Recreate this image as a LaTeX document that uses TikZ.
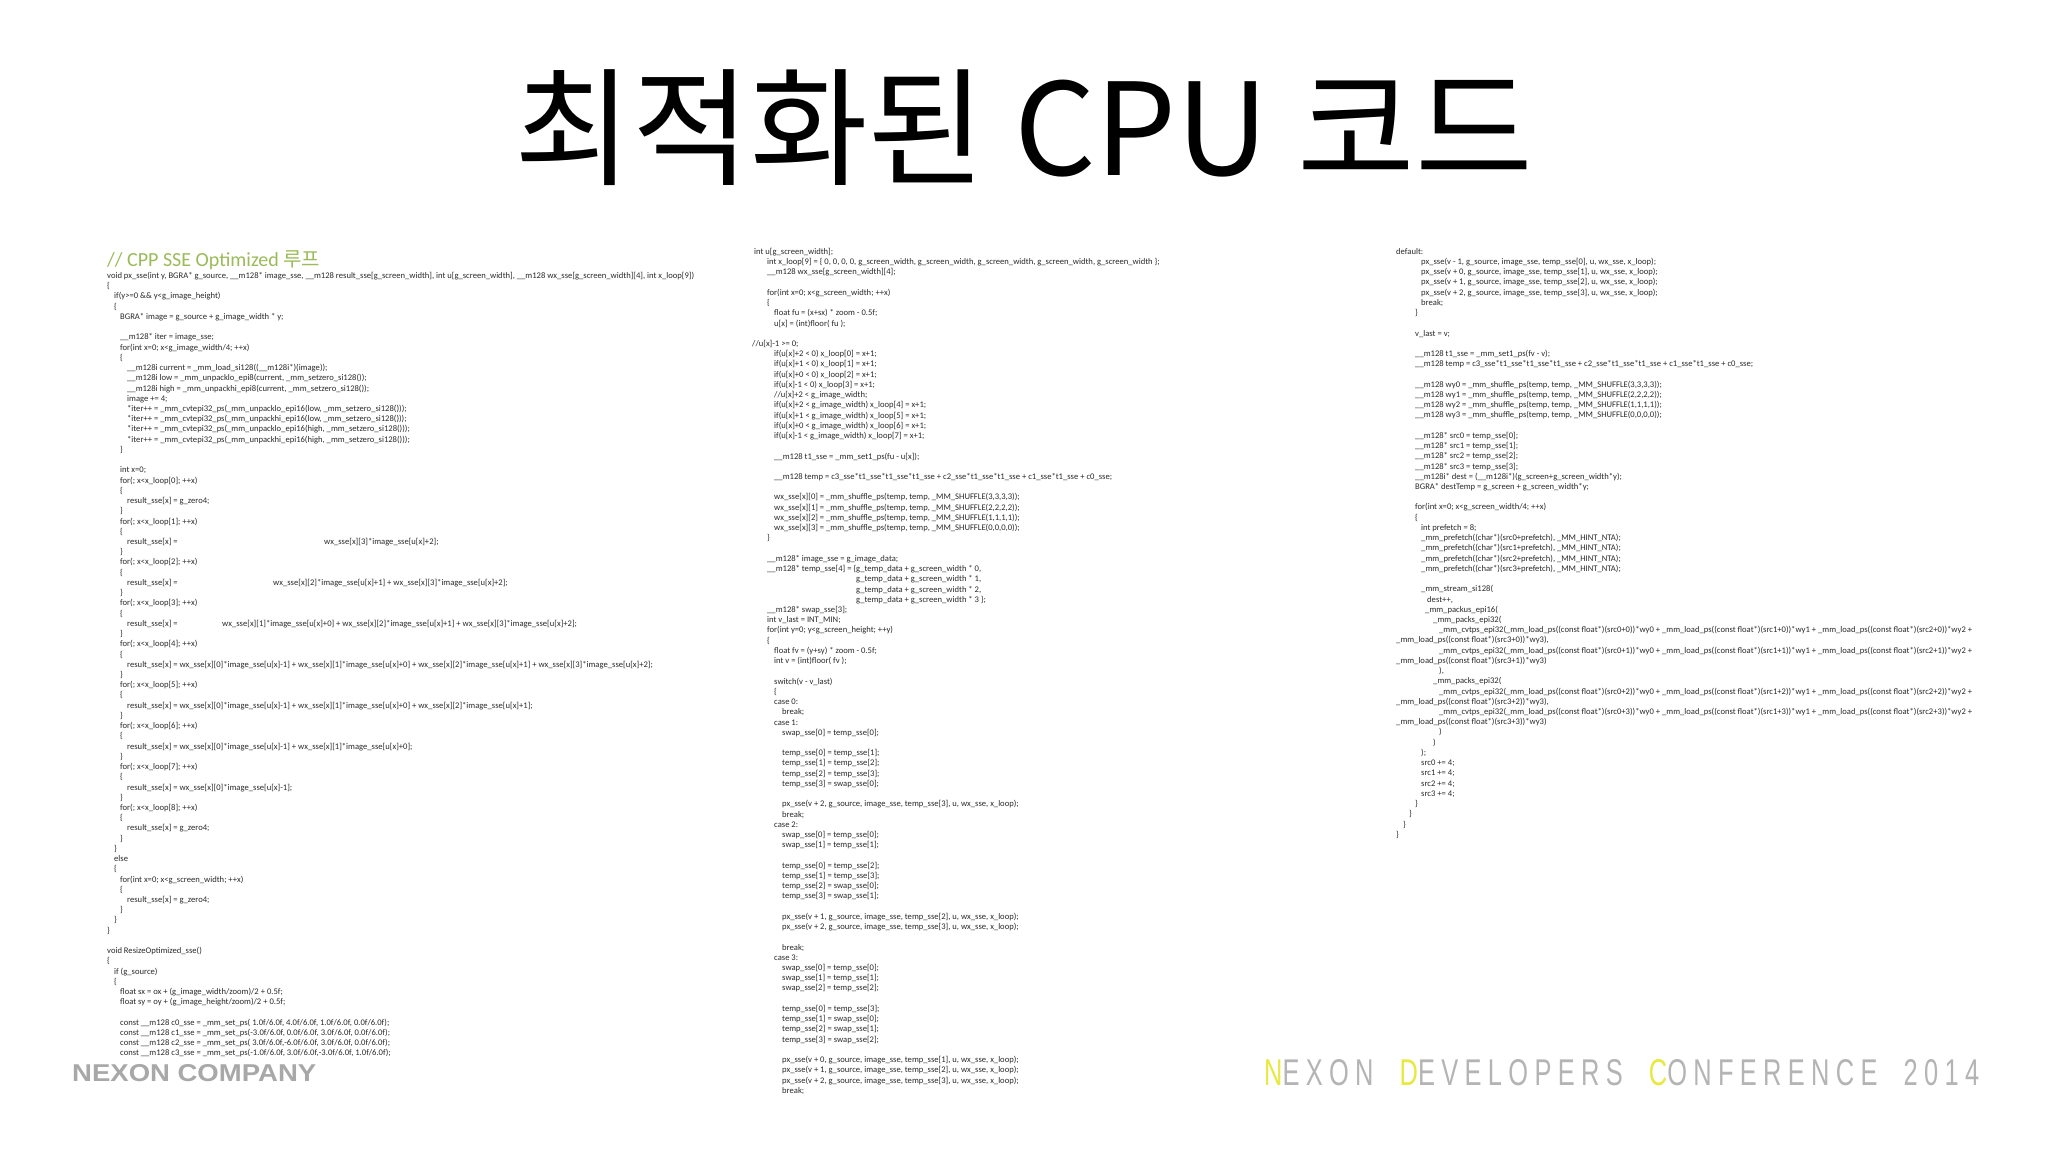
\documentclass[tikz,border=0pt]{standalone}
\usepackage{fontspec}
\setmainfont{Carlito}
\newfontfamily\cjk{Noto Sans CJK KR}
\newfontfamily\logofont{Liberation Sans}
\definecolor{codegray}{HTML}{2A2A2A}
\definecolor{cmtgreen}{HTML}{9BBB59}
\definecolor{ndcgray}{HTML}{B4B4B4}
\definecolor{ndcyellow}{HTML}{E8E840}
\definecolor{nxgray}{HTML}{A8A8A8}
\newcommand\cl[2]{\hbox{\hspace*{#1pt}#2}}
\newcommand\bl{\hbox{}}
\newcommand\codeblock[1]{\vbox{\baselineskip=10.23pt\lineskiplimit=-100pt\lineskip=0pt #1}}
\AtBeginDocument{\catcode`\_=12 }
\tikzset{
  codecol/.style={anchor=north west, inner sep=0pt, text=codegray,
    font=\fontsize{8.6}{10.23}\selectfont}
}
\begin{document}
\begin{tikzpicture}[x=1pt,y=-1pt]
\useasboundingbox[fill=white] (0,0) rectangle (2048,1152);
\node[font=\cjk\fontsize{128}{140}\selectfont, anchor=center] (title) at (1024,128) {최적화된 CPU 코드};
\node[anchor=base west, inner sep=0pt, text=cmtgreen, font=\fontsize{20}{22}\selectfont] (cmt) at (107,266) {// CPP SSE Optimized {\cjk 루프}};
\node[codecol] (col1) at (107,272) {\codeblock{%
\cl{0}{void px_sse(int y, BGRA* g_source, __m128* image_sse, __m128 result_sse[g_screen_width], int u[g_screen_width], __m128 wx_sse[g_screen_width][4], int x_loop[9])}
\cl{0}{\{}
\cl{7}{if(y>=0 \&\& y<g_image_height)}
\cl{7}{\{}
\cl{13}{BGRA* image = g_source + g_image_width * y;}
\bl
\cl{13}{__m128* iter = image_sse;}
\cl{13}{for(int x=0; x<g_image_width/4; ++x)}
\cl{13}{\{}
\cl{20}{__m128i current = _mm_load_si128((__m128i*)(image));}
\cl{20}{__m128i low = _mm_unpacklo_epi8(current, _mm_setzero_si128());}
\cl{20}{__m128i high = _mm_unpackhi_epi8(current, _mm_setzero_si128());}
\cl{20}{image += 4;}
\cl{20}{*iter++ = _mm_cvtepi32_ps(_mm_unpacklo_epi16(low, _mm_setzero_si128()));}
\cl{20}{*iter++ = _mm_cvtepi32_ps(_mm_unpackhi_epi16(low, _mm_setzero_si128()));}
\cl{20}{*iter++ = _mm_cvtepi32_ps(_mm_unpacklo_epi16(high, _mm_setzero_si128()));}
\cl{20}{*iter++ = _mm_cvtepi32_ps(_mm_unpackhi_epi16(high, _mm_setzero_si128()));}
\cl{13}{\}}
\bl
\cl{13}{int x=0;}
\cl{13}{for(; x<x_loop[0]; ++x)}
\cl{13}{\{}
\cl{20}{result_sse[x] = g_zero4;}
\cl{13}{\}}
\cl{13}{for(; x<x_loop[1]; ++x)}
\cl{13}{\{}
\cl{20}{\makebox[197pt][l]{result_sse[x] =}wx_sse[x][3]*image_sse[u[x]+2];}
\cl{13}{\}}
\cl{13}{for(; x<x_loop[2]; ++x)}
\cl{13}{\{}
\cl{20}{\makebox[146pt][l]{result_sse[x] =}wx_sse[x][2]*image_sse[u[x]+1] + wx_sse[x][3]*image_sse[u[x]+2];}
\cl{13}{\}}
\cl{13}{for(; x<x_loop[3]; ++x)}
\cl{13}{\{}
\cl{20}{\makebox[95pt][l]{result_sse[x] =}wx_sse[x][1]*image_sse[u[x]+0] + wx_sse[x][2]*image_sse[u[x]+1] + wx_sse[x][3]*image_sse[u[x]+2];}
\cl{13}{\}}
\cl{13}{for(; x<x_loop[4]; ++x)}
\cl{13}{\{}
\cl{20}{result_sse[x] = wx_sse[x][0]*image_sse[u[x]-1] + wx_sse[x][1]*image_sse[u[x]+0] + wx_sse[x][2]*image_sse[u[x]+1] + wx_sse[x][3]*image_sse[u[x]+2];}
\cl{13}{\}}
\cl{13}{for(; x<x_loop[5]; ++x)}
\cl{13}{\{}
\cl{20}{result_sse[x] = wx_sse[x][0]*image_sse[u[x]-1] + wx_sse[x][1]*image_sse[u[x]+0] + wx_sse[x][2]*image_sse[u[x]+1];}
\cl{13}{\}}
\cl{13}{for(; x<x_loop[6]; ++x)}
\cl{13}{\{}
\cl{20}{result_sse[x] = wx_sse[x][0]*image_sse[u[x]-1] + wx_sse[x][1]*image_sse[u[x]+0];}
\cl{13}{\}}
\cl{13}{for(; x<x_loop[7]; ++x)}
\cl{13}{\{}
\cl{20}{result_sse[x] = wx_sse[x][0]*image_sse[u[x]-1];}
\cl{13}{\}}
\cl{13}{for(; x<x_loop[8]; ++x)}
\cl{13}{\{}
\cl{20}{result_sse[x] = g_zero4;}
\cl{13}{\}}
\cl{7}{\}}
\cl{7}{else}
\cl{7}{\{}
\cl{13}{for(int x=0; x<g_screen_width; ++x)}
\cl{13}{\{}
\cl{20}{result_sse[x] = g_zero4;}
\cl{13}{\}}
\cl{7}{\}}
\cl{0}{\}}
\bl
\cl{0}{void ResizeOptimized_sse()}
\cl{0}{\{}
\cl{7}{if (g_source)}
\cl{7}{\{}
\cl{13}{float sx = ox + (g_image_width/zoom)/2 + 0.5f;}
\cl{13}{float sy = oy + (g_image_height/zoom)/2 + 0.5f;}
\bl
\cl{13}{const __m128 c0_sse = _mm_set_ps( 1.0f/6.0f, 4.0f/6.0f, 1.0f/6.0f, 0.0f/6.0f);}
\cl{13}{const __m128 c1_sse = _mm_set_ps(-3.0f/6.0f, 0.0f/6.0f, 3.0f/6.0f, 0.0f/6.0f);}
\cl{13}{const __m128 c2_sse = _mm_set_ps( 3.0f/6.0f,-6.0f/6.0f, 3.0f/6.0f, 0.0f/6.0f);}
\cl{13}{const __m128 c3_sse = _mm_set_ps(-1.0f/6.0f, 3.0f/6.0f,-3.0f/6.0f, 1.0f/6.0f);}
}};
\node[codecol] (col2) at (752,248) {\codeblock{%
\cl{2}{int u[g_screen_width];}
\cl{15}{int x_loop[9] = \{ 0, 0, 0, 0, g_screen_width, g_screen_width, g_screen_width, g_screen_width, g_screen_width \};}
\cl{15}{__m128 wx_sse[g_screen_width][4];}
\bl
\cl{15}{for(int x=0; x<g_screen_width; ++x)}
\cl{15}{\{}
\cl{22}{float fu = (x+sx) * zoom - 0.5f;}
\cl{22}{u[x] = (int)floor( fu );}
\bl
\cl{0}{//u[x]-1 >= 0;}
\cl{22}{if(u[x]+2 < 0) x_loop[0] = x+1;}
\cl{22}{if(u[x]+1 < 0) x_loop[1] = x+1;}
\cl{22}{if(u[x]+0 < 0) x_loop[2] = x+1;}
\cl{22}{if(u[x]-1 < 0) x_loop[3] = x+1;}
\cl{22}{//u[x]+2 < g_image_width;}
\cl{22}{if(u[x]+2 < g_image_width) x_loop[4] = x+1;}
\cl{22}{if(u[x]+1 < g_image_width) x_loop[5] = x+1;}
\cl{22}{if(u[x]+0 < g_image_width) x_loop[6] = x+1;}
\cl{22}{if(u[x]-1 < g_image_width) x_loop[7] = x+1;}
\bl
\cl{22}{__m128 t1_sse = _mm_set1_ps(fu - u[x]);}
\bl
\cl{22}{__m128 temp = c3_sse*t1_sse*t1_sse*t1_sse + c2_sse*t1_sse*t1_sse + c1_sse*t1_sse + c0_sse;}
\bl
\cl{22}{wx_sse[x][0] = _mm_shuffle_ps(temp, temp, _MM_SHUFFLE(3,3,3,3));}
\cl{22}{wx_sse[x][1] = _mm_shuffle_ps(temp, temp, _MM_SHUFFLE(2,2,2,2));}
\cl{22}{wx_sse[x][2] = _mm_shuffle_ps(temp, temp, _MM_SHUFFLE(1,1,1,1));}
\cl{22}{wx_sse[x][3] = _mm_shuffle_ps(temp, temp, _MM_SHUFFLE(0,0,0,0));}
\cl{15}{\}}
\bl
\cl{15}{__m128* image_sse = g_image_data;}
\cl{15}{\makebox[89pt][l]{__m128* temp_sse[4] = \{}g_temp_data + g_screen_width * 0,}
\cl{104}{g_temp_data + g_screen_width * 1,}
\cl{104}{g_temp_data + g_screen_width * 2,}
\cl{104}{g_temp_data + g_screen_width * 3 \};}
\cl{15}{__m128* swap_sse[3];}
\cl{15}{int v_last = INT_MIN;}
\cl{15}{for(int y=0; y<g_screen_height; ++y)}
\cl{15}{\{}
\cl{22}{float fv = (y+sy) * zoom - 0.5f;}
\cl{22}{int v = (int)floor( fv );}
\bl
\cl{22}{switch(v - v_last)}
\cl{22}{\{}
\cl{22}{case 0:}
\cl{30}{break;}
\cl{22}{case 1:}
\cl{30}{swap_sse[0] = temp_sse[0];}
\bl
\cl{30}{temp_sse[0] = temp_sse[1];}
\cl{30}{temp_sse[1] = temp_sse[2];}
\cl{30}{temp_sse[2] = temp_sse[3];}
\cl{30}{temp_sse[3] = swap_sse[0];}
\bl
\cl{30}{px_sse(v + 2, g_source, image_sse, temp_sse[3], u, wx_sse, x_loop);}
\cl{30}{break;}
\cl{22}{case 2:}
\cl{30}{swap_sse[0] = temp_sse[0];}
\cl{30}{swap_sse[1] = temp_sse[1];}
\bl
\cl{30}{temp_sse[0] = temp_sse[2];}
\cl{30}{temp_sse[1] = temp_sse[3];}
\cl{30}{temp_sse[2] = swap_sse[0];}
\cl{30}{temp_sse[3] = swap_sse[1];}
\bl
\cl{30}{px_sse(v + 1, g_source, image_sse, temp_sse[2], u, wx_sse, x_loop);}
\cl{30}{px_sse(v + 2, g_source, image_sse, temp_sse[3], u, wx_sse, x_loop);}
\bl
\cl{30}{break;}
\cl{22}{case 3:}
\cl{30}{swap_sse[0] = temp_sse[0];}
\cl{30}{swap_sse[1] = temp_sse[1];}
\cl{30}{swap_sse[2] = temp_sse[2];}
\bl
\cl{30}{temp_sse[0] = temp_sse[3];}
\cl{30}{temp_sse[1] = swap_sse[0];}
\cl{30}{temp_sse[2] = swap_sse[1];}
\cl{30}{temp_sse[3] = swap_sse[2];}
\bl
\cl{30}{px_sse(v + 0, g_source, image_sse, temp_sse[1], u, wx_sse, x_loop);}
\cl{30}{px_sse(v + 1, g_source, image_sse, temp_sse[2], u, wx_sse, x_loop);}
\cl{30}{px_sse(v + 2, g_source, image_sse, temp_sse[3], u, wx_sse, x_loop);}
\cl{30}{break;}
}};
\node[codecol] (col3) at (1396,248) {\codeblock{%
\cl{0}{default:}
\cl{25}{px_sse(v - 1, g_source, image_sse, temp_sse[0], u, wx_sse, x_loop);}
\cl{25}{px_sse(v + 0, g_source, image_sse, temp_sse[1], u, wx_sse, x_loop);}
\cl{25}{px_sse(v + 1, g_source, image_sse, temp_sse[2], u, wx_sse, x_loop);}
\cl{25}{px_sse(v + 2, g_source, image_sse, temp_sse[3], u, wx_sse, x_loop);}
\cl{25}{break;}
\cl{19}{\}}
\bl
\cl{19}{v_last = v;}
\bl
\cl{19}{__m128 t1_sse = _mm_set1_ps(fv - v);}
\cl{19}{__m128 temp = c3_sse*t1_sse*t1_sse*t1_sse + c2_sse*t1_sse*t1_sse + c1_sse*t1_sse + c0_sse;}
\bl
\cl{19}{__m128 wy0 = _mm_shuffle_ps(temp, temp, _MM_SHUFFLE(3,3,3,3));}
\cl{19}{__m128 wy1 = _mm_shuffle_ps(temp, temp, _MM_SHUFFLE(2,2,2,2));}
\cl{19}{__m128 wy2 = _mm_shuffle_ps(temp, temp, _MM_SHUFFLE(1,1,1,1));}
\cl{19}{__m128 wy3 = _mm_shuffle_ps(temp, temp, _MM_SHUFFLE(0,0,0,0));}
\bl
\cl{19}{__m128* src0 = temp_sse[0];}
\cl{19}{__m128* src1 = temp_sse[1];}
\cl{19}{__m128* src2 = temp_sse[2];}
\cl{19}{__m128* src3 = temp_sse[3];}
\cl{19}{__m128i* dest = (__m128i*)(g_screen+g_screen_width*y);}
\cl{19}{BGRA* destTemp = g_screen + g_screen_width*y;}
\bl
\cl{19}{for(int x=0; x<g_screen_width/4; ++x)}
\cl{19}{\{}
\cl{25}{int prefetch = 8;}
\cl{25}{_mm_prefetch((char*)(src0+prefetch), _MM_HINT_NTA);}
\cl{25}{_mm_prefetch((char*)(src1+prefetch), _MM_HINT_NTA);}
\cl{25}{_mm_prefetch((char*)(src2+prefetch), _MM_HINT_NTA);}
\cl{25}{_mm_prefetch((char*)(src3+prefetch), _MM_HINT_NTA);}
\bl
\cl{25}{_mm_stream_si128(}
\cl{31}{dest++,}
\cl{29}{_mm_packus_epi16(}
\cl{37}{_mm_packs_epi32(}
\cl{43}{_mm_cvtps_epi32(_mm_load_ps((const float*)(src0+0))*wy0 + _mm_load_ps((const float*)(src1+0))*wy1 + _mm_load_ps((const float*)(src2+0))*wy2 +}
\cl{0}{_mm_load_ps((const float*)(src3+0))*wy3),}
\cl{43}{_mm_cvtps_epi32(_mm_load_ps((const float*)(src0+1))*wy0 + _mm_load_ps((const float*)(src1+1))*wy1 + _mm_load_ps((const float*)(src2+1))*wy2 +}
\cl{0}{_mm_load_ps((const float*)(src3+1))*wy3)}
\cl{43}{),}
\cl{37}{_mm_packs_epi32(}
\cl{43}{_mm_cvtps_epi32(_mm_load_ps((const float*)(src0+2))*wy0 + _mm_load_ps((const float*)(src1+2))*wy1 + _mm_load_ps((const float*)(src2+2))*wy2 +}
\cl{0}{_mm_load_ps((const float*)(src3+2))*wy3),}
\cl{43}{_mm_cvtps_epi32(_mm_load_ps((const float*)(src0+3))*wy0 + _mm_load_ps((const float*)(src1+3))*wy1 + _mm_load_ps((const float*)(src2+3))*wy2 +}
\cl{0}{_mm_load_ps((const float*)(src3+3))*wy3)}
\cl{43}{)}
\cl{37}{)}
\cl{25}{);}
\cl{25}{src0 += 4;}
\cl{25}{src1 += 4;}
\cl{25}{src2 += 4;}
\cl{25}{src3 += 4;}
\cl{19}{\}}
\cl{13}{\}}
\cl{7}{\}}
\cl{0}{\}}
}};
\node[anchor=west, inner sep=0pt, text=nxgray] (nexon) at (72,1073)
  {\resizebox{244pt}{17pt}{\logofont\bfseries NEXON COMPANY}};
\node[anchor=west, inner sep=0pt, text=ndcgray] (ndc) at (1264,1073)
  {\resizebox{715pt}{26pt}{\logofont\addfontfeature{LetterSpace=25}%
  \textcolor{ndcyellow}{N}EXON\hspace{0.5em} \textcolor{ndcyellow}{D}EVELOPERS\hspace{0.5em} \textcolor{ndcyellow}{C}ONFERENCE\hspace{0.5em} 2014}};
\end{tikzpicture}
\end{document}
